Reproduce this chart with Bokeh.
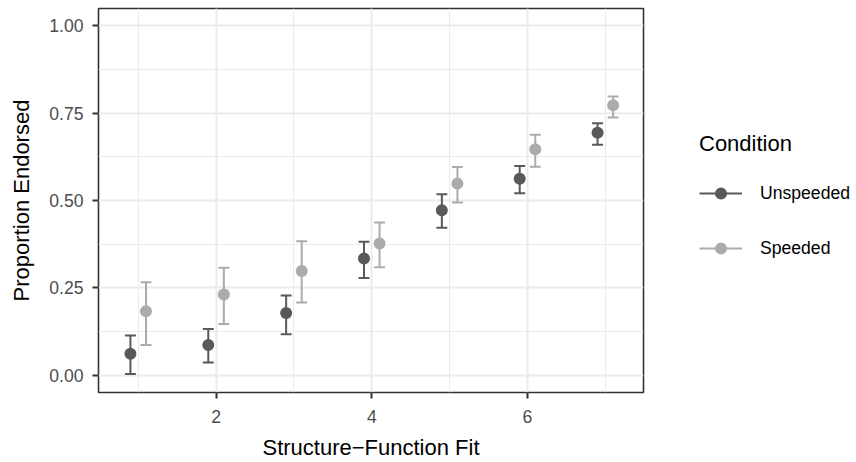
from bokeh.plotting import figure
from bokeh.layouts import row
from bokeh.models import (ColumnDataSource, FixedTicker, Range1d, Legend, LegendItem)
from bokeh.transform import dodge
from bokeh.embed import file_html
from bokeh.resources import INLINE

# ---- data ----
fit = [1, 2, 3, 4, 5, 6, 7]
unspeeded_mean = [0.061, 0.086, 0.178, 0.334, 0.472, 0.562, 0.694]
unspeeded_lo = [0.003, 0.036, 0.117, 0.278, 0.422, 0.521, 0.660]
unspeeded_hi = [0.113, 0.132, 0.228, 0.382, 0.518, 0.599, 0.721]
speeded_mean = [0.183, 0.231, 0.298, 0.377, 0.549, 0.647, 0.773]
speeded_lo = [0.086, 0.146, 0.208, 0.309, 0.494, 0.597, 0.738]
speeded_hi = [0.266, 0.307, 0.383, 0.437, 0.596, 0.688, 0.798]
conditions = ["Unspeeded", "Speeded"]
x_ticks = [2, 4, 6]
x_minor = [1, 3, 5, 7]
y_ticks = [0, 0.25, 0.5, 0.75, 1.0]
y_minor = [0.125, 0.375, 0.625, 0.875]
y_tick_labels = ["0.00", "0.25", "0.50", "0.75", "1.00"]

DODGE = 0.1      # position_dodge half-width
CAP = 0.14       # errorbar cap width (data units)
FONT = "Liberation Sans"
colors = {"Unspeeded": "#595959", "Speeded": "#ababab"}

MAIN_W = 645
p = figure(width=MAIN_W, height=462, output_backend="svg", toolbar_location=None,
           x_range=Range1d(0.49, 7.49), y_range=Range1d(-0.05, 1.05),
           min_border_left=98, min_border_right=2, min_border_top=8, min_border_bottom=67)
p.background_fill_color = "white"
p.border_fill_color = "white"
p.outline_line_color = "#333333"
p.outline_line_width = 1.6

p.xaxis.ticker = FixedTicker(ticks=x_ticks, minor_ticks=x_minor)
p.yaxis.ticker = FixedTicker(ticks=y_ticks, minor_ticks=y_minor)
p.yaxis.major_label_overrides = {t: l for t, l in zip(y_ticks, y_tick_labels)}

for g in (p.xgrid, p.ygrid):
    g.grid_line_color = "#ebebeb"
    g.grid_line_width = 2
    g.minor_grid_line_color = "#ebebeb"
    g.minor_grid_line_width = 1

for ax in (p.xaxis, p.yaxis):
    ax.axis_line_color = None
    ax.minor_tick_line_color = None
    ax.major_tick_line_color = "#333333"
    ax.major_tick_line_width = 2
    ax.major_tick_out = 6
    ax.major_tick_in = 0
    ax.major_label_text_font = FONT
    ax.major_label_text_font_size = "17.6px"
    ax.major_label_text_color = "#4d4d4d"
    ax.axis_label_text_font = FONT
    ax.axis_label_text_font_size = "22px"
    ax.axis_label_text_font_style = "normal"
    ax.axis_label_text_color = "black"

p.xaxis.axis_label = "Structure\u2212Function Fit"
p.yaxis.axis_label = "Proportion Endorsed"
p.xaxis.major_label_standoff = 11
p.yaxis.major_label_standoff = 9
p.xaxis.axis_label_standoff = 9
p.yaxis.axis_label_standoff = 12

series = [("Unspeeded", unspeeded_mean, unspeeded_lo, unspeeded_hi, -DODGE),
          ("Speeded", speeded_mean, speeded_lo, speeded_hi, DODGE)]
for name, m, lo, hi, off in series:
    c = colors[name]
    src = ColumnDataSource(dict(x=fit, y=m, lo=lo, hi=hi))
    kw = dict(source=src, line_color=c, line_width=2, line_cap="butt")
    p.segment(x0=dodge("x", off), x1=dodge("x", off), y0="lo", y1="hi", **kw)
    p.segment(x0=dodge("x", off - CAP / 2), x1=dodge("x", off + CAP / 2), y0="hi", y1="hi", **kw)
    p.segment(x0=dodge("x", off - CAP / 2), x1=dodge("x", off + CAP / 2), y0="lo", y1="lo", **kw)
    p.scatter(x=dodge("x", off), y="y", source=src, size=12,
              fill_color=c, line_color=c, line_width=0)

# ---- legend panel (separate figure so the legend is not clipped) ----
lg = figure(width=856 - MAIN_W, height=462, output_backend="svg", toolbar_location=None,
            x_range=Range1d(0, 1), y_range=Range1d(0, 1), x_axis_type=None, y_axis_type=None,
            min_border=0)
lg.outline_line_color = None
lg.xgrid.visible = False
lg.ygrid.visible = False
lg.background_fill_color = "white"
lg.border_fill_color = "white"

items = []
nan = float("nan")
for name in conditions:
    c = colors[name]
    dsrc = ColumnDataSource(dict(x=[nan], y=[nan]))
    seg = lg.segment(x0="x", x1="x", y0="y", y1="y", source=dsrc, line_color=c, line_width=2)
    sc = lg.scatter(x="x", y="y", source=dsrc, size=12, fill_color=c, line_color=c, line_width=0)
    items.append(LegendItem(label=name, renderers=[seg, sc]))

legend = Legend(items=items, location=(54, 129), title="Condition",
                title_text_font=FONT, title_text_font_size="22px", title_text_color="black",
                title_text_font_style="normal",
                title_standoff=21, label_text_font=FONT, label_text_font_size="17.6px",
                label_text_color="black", glyph_width=43, glyph_height=30, label_height=30,
                label_standoff=18, spacing=25, padding=0, margin=0,
                border_line_color=None, background_fill_alpha=0)
lg.add_layout(legend, "center")

layout = row(p, lg, spacing=0)
open("out.html", "w").write(file_html(layout, INLINE))
